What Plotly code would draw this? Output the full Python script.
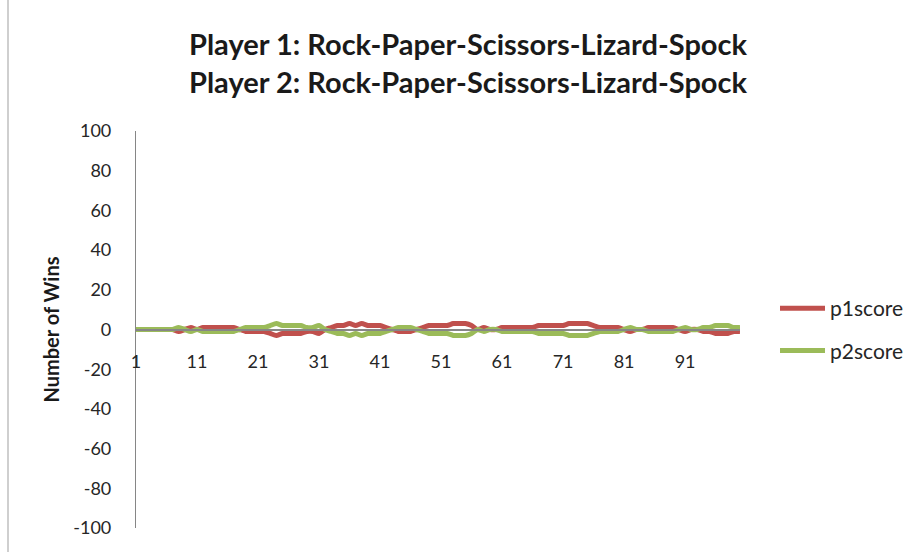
import plotly.graph_objects as go

# Round numbers 1..100
rounds = list(range(1, 101))

# Running score of each player after every round
p1score = [
    0, 0, 0, 0, 0, 0, 0, -1, 0, 1,
    0, 1, 1, 1, 1, 1, 1, 0, -1, -1,
    -1, -1, -2, -3, -2, -2, -2, -2, -1, -1,
    -2, 0, 1, 2, 2, 3, 2, 3, 2, 2,
    2, 1, 0, -1, -1, -1, 0, 1, 2, 2,
    2, 2, 3, 3, 3, 2, 0, 1, 0, 0,
    1, 1, 1, 1, 1, 1, 2, 2, 2, 2,
    2, 3, 3, 3, 3, 2, 1, 1, 1, 1,
    0, -1, 0, 0, 1, 1, 1, 1, 1, 0,
    -1, 0, 0, -1, -1, -2, -2, -2, -1, -1,
]
p2score = [-v for v in p1score]

x_ticks = [1, 11, 21, 31, 41, 51, 61, 71, 81, 91]
y_ticks = [-100, -80, -60, -40, -20, 0, 20, 40, 60, 80, 100]

title_lines = [
    "Player 1: Rock-Paper-Scissors-Lizard-Spock",
    "Player 2: Rock-Paper-Scissors-Lizard-Spock",
]

FONT = "Lato"
TEXT = "#262626"
AXIS = "#868686"

fig = go.Figure()
fig.add_trace(go.Scatter(
    x=rounds, y=p1score, name="p1score", mode="lines",
    line=dict(color="#C0504D", width=5, shape="spline", smoothing=0.6),
    legendgroup="a",
))
fig.add_trace(go.Scatter(
    x=rounds, y=p2score, name="p2score", mode="lines",
    line=dict(color="#9BBB59", width=5, shape="spline", smoothing=0.6),
    legendgroup="b",
))

fig.update_layout(
    width=910, height=552,
    margin=dict(l=136, r=170, t=131, b=24, autoexpand=False),
    paper_bgcolor="white", plot_bgcolor="white",
    font=dict(family=FONT, color=TEXT, size=18),
    title=dict(
        text="<br>".join(title_lines),
        x=468 / 910, xanchor="center", xref="container",
        y=1 - 55 / 552, yanchor="middle", yref="container",
        font=dict(family=FONT, size=29, color="#1a1a1a", weight="bold"),
    ),
    showlegend=True,
    legend=dict(
        x=(775 - 136) / 604, xanchor="left", y=0.5, yanchor="middle",
        traceorder="grouped", tracegroupgap=12,
        itemwidth=45,
        font=dict(family=FONT, size=21, color=TEXT),
        bgcolor="rgba(0,0,0,0)",
    ),
    xaxis=dict(
        range=[1, 100], tickvals=x_ticks, ticktext=[str(v) for v in x_ticks],
        anchor="free", position=0.5,
        showline=True, linecolor=AXIS, linewidth=1.5,
        showgrid=False, zeroline=False, ticks="",
        ticklabelstandoff=16,
        tickfont=dict(family=FONT, size=18, color=TEXT),
    ),
    yaxis=dict(
        range=[-100, 100], tickvals=y_ticks,
        ticktext=[str(v) for v in y_ticks],
        showline=True, linecolor=AXIS, linewidth=1.2,
        showgrid=False, zeroline=False, ticks="",
        ticklabelstandoff=20,
        tickfont=dict(family=FONT, size=18, color=TEXT),
        title=dict(text="Number of Wins", standoff=8,
                   font=dict(family=FONT, size=20, color="#1a1a1a", weight="bold")),
    ),
)

# left edge of the chart frame
fig.add_shape(type="line", xref="paper", yref="paper",
              x0=(8 - 136) / 604, x1=(8 - 136) / 604, y0=-0.2, y1=1.4,
              line=dict(color="#BFBFBF", width=1.5))

fig.write_html("out.html")
